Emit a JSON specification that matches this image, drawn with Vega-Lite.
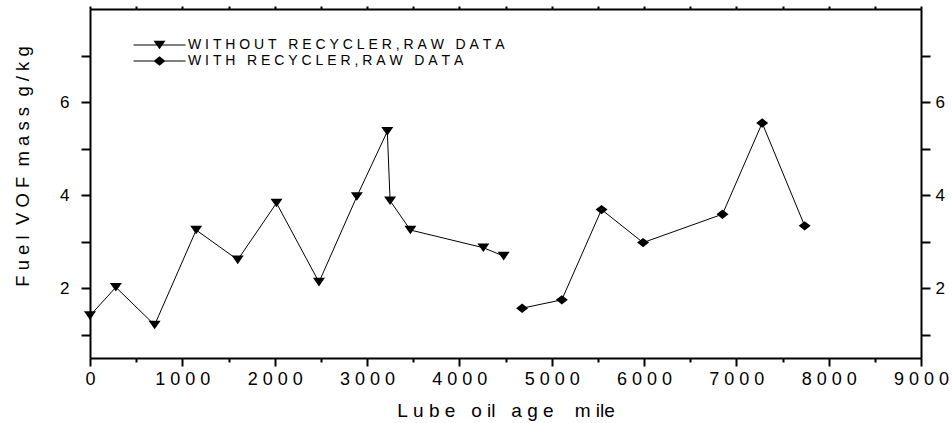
{
  "$schema": "https://vega.github.io/schema/vega-lite/v6.json",
  "width": 831,
  "height": 349,
  "autosize": {"type": "none"},
  "padding": {"left": 90, "top": 9, "right": 31, "bottom": 65},
  "background": "white",
  "config": {
    "view": {"stroke": null},
    "font": "Liberation Sans",
    "axis": {
      "domainColor": "black", "tickColor": "black", "labelColor": "black", "titleColor": "black",
      "domainWidth": 2, "tickWidth": 2, "grid": false,
      "labelFont": "Liberation Sans", "titleFont": "Liberation Sans", "titleFontWeight": "normal"
    }
  },
  "data": {"values": [
    {"series": "WITHOUT RECYCLER,RAW DATA", "mile": 0, "vof": 1.41},
    {"series": "WITHOUT RECYCLER,RAW DATA", "mile": 280, "vof": 2.02},
    {"series": "WITHOUT RECYCLER,RAW DATA", "mile": 700, "vof": 1.21},
    {"series": "WITHOUT RECYCLER,RAW DATA", "mile": 1150, "vof": 3.25},
    {"series": "WITHOUT RECYCLER,RAW DATA", "mile": 1600, "vof": 2.61},
    {"series": "WITHOUT RECYCLER,RAW DATA", "mile": 2020, "vof": 3.83},
    {"series": "WITHOUT RECYCLER,RAW DATA", "mile": 2480, "vof": 2.13},
    {"series": "WITHOUT RECYCLER,RAW DATA", "mile": 2890, "vof": 3.97},
    {"series": "WITHOUT RECYCLER,RAW DATA", "mile": 3220, "vof": 5.37},
    {"series": "WITHOUT RECYCLER,RAW DATA", "mile": 3250, "vof": 3.88},
    {"series": "WITHOUT RECYCLER,RAW DATA", "mile": 3470, "vof": 3.25},
    {"series": "WITHOUT RECYCLER,RAW DATA", "mile": 4260, "vof": 2.87},
    {"series": "WITHOUT RECYCLER,RAW DATA", "mile": 4480, "vof": 2.69},
    {"series": "WITH RECYCLER,RAW DATA", "mile": 4680, "vof": 1.57},
    {"series": "WITH RECYCLER,RAW DATA", "mile": 5110, "vof": 1.75},
    {"series": "WITH RECYCLER,RAW DATA", "mile": 5540, "vof": 3.69},
    {"series": "WITH RECYCLER,RAW DATA", "mile": 5990, "vof": 2.98},
    {"series": "WITH RECYCLER,RAW DATA", "mile": 6850, "vof": 3.59},
    {"series": "WITH RECYCLER,RAW DATA", "mile": 7280, "vof": 5.55},
    {"series": "WITH RECYCLER,RAW DATA", "mile": 7740, "vof": 3.34}
  ]},
  "resolve": {
    "axis": {"x": "independent", "y": "independent"},
    "scale": {"shape": "independent"},
    "legend": {"shape": "independent"}
  },
  "layer": [
    {
      "mark": {"type": "line", "color": "black", "strokeWidth": 1},
      "encoding": {
        "x": {
          "field": "mile", "type": "quantitative",
          "scale": {"domain": [0, 9000], "nice": false, "zero": false},
          "axis": {
            "orient": "bottom",
            "values": [0, 500, 1000, 1500, 2000, 2500, 3000, 3500, 4000, 4500, 5000, 5500, 6000, 6500, 7000, 7500, 8000, 8500, 9000],
            "format": "d",
            "labelExpr": "datum.value % 1000 === 0 ? join(split(datum.label, ''), ' ') : ''",
            "labelFontSize": 18, "labelPadding": 4, "labelFlush": false, "labelOverlap": false,
            "tickSize": {"condition": {"test": "datum.value % 1000 === 0", "value": 8}, "value": 4},
            "title": "L\u00a0u\u00a0b\u00a0e\u00a0\u00a0\u00a0o\u00a0il\u00a0\u00a0\u00a0a\u00a0g\u00a0e\u00a0\u00a0\u00a0\u00a0m\u00a0ile",
            "titleFontSize": 19, "titlePadding": 13
          }
        },
        "y": {
          "field": "vof", "type": "quantitative",
          "scale": {"domain": [0.5, 8], "nice": false, "zero": false},
          "axis": {
            "orient": "left",
            "values": [1, 2, 3, 4, 5, 6, 7],
            "labelExpr": "datum.value % 2 === 0 ? datum.label : ''",
            "labelFontSize": 17, "labelPadding": 12, "tickSize": 9,
            "title": "F\u00a0u\u00a0e\u00a0l\u00a0\u00a0V\u00a0O\u00a0F\u00a0\u00a0m\u00a0a\u00a0s\u00a0s\u00a0\u00a0g\u00a0/\u00a0k\u00a0g",
            "titleFontSize": 18.5, "titleX": -62, "titleY": 157,
            "titleAlign": "center", "titleBaseline": "alphabetic", "titleAngle": 270
          }
        },
        "detail": {"field": "series"}
      }
    },
    {
      "mark": {"type": "point", "filled": true, "color": "black", "opacity": 1, "size": 144, "strokeWidth": 0},
      "encoding": {
        "x": {
          "field": "mile", "type": "quantitative",
          "scale": {"domain": [0, 9000], "nice": false, "zero": false},
          "axis": {
            "orient": "top",
            "values": [0, 500, 1000, 1500, 2000, 2500, 3000, 3500, 4000, 4500, 5000, 5500, 6000, 6500, 7000, 7500, 8000, 8500, 9000],
            "labels": false, "tickSize": 3, "title": null
          }
        },
        "y": {
          "field": "vof", "type": "quantitative",
          "scale": {"domain": [0.5, 8], "nice": false, "zero": false},
          "axis": {
            "orient": "right",
            "values": [1, 2, 3, 4, 5, 6, 7],
            "labelExpr": "datum.value % 2 === 0 ? datum.label : ''",
            "labelFontSize": 17, "labelPadding": 5, "tickSize": 9, "title": null
          }
        },
        "shape": {
          "field": "series", "type": "nominal",
          "scale": {
            "domain": ["WITHOUT RECYCLER,RAW DATA", "WITH RECYCLER,RAW DATA"],
            "range": ["M-1,-0.72L1,-0.72L0,0.72Z", "M-1,0L0,-0.78L1,0L0,0.78Z"]
          },
          "legend": null
        }
      }
    },
    {
      "mark": {"type": "point", "filled": true, "color": "black", "opacity": 0, "size": 144, "strokeWidth": 0},
      "encoding": {
        "x": {"field": "mile", "type": "quantitative", "axis": null},
        "y": {"field": "vof", "type": "quantitative", "axis": null},
        "shape": {
          "field": "series", "type": "nominal",
          "scale": {
            "domain": ["WITHOUT RECYCLER,RAW DATA", "WITH RECYCLER,RAW DATA"],
            "range": [
              "M-4.33,-0.09L4.33,-0.09L4.33,0.09L-4.33,0.09Z M-1,-0.72L1,-0.72L0,0.72Z",
              "M-4.33,-0.09L4.33,-0.09L4.33,0.09L-4.33,0.09Z M-1,0L0,-0.78L1,0L0,0.78Z"
            ]
          },
          "legend": {
            "orient": "none", "legendX": 62.5, "legendY": 29, "title": null, "padding": 0,
            "symbolSize": 144, "symbolOpacity": 1, "symbolFillColor": "black", "symbolStrokeWidth": 0,
            "labelFontSize": 14, "labelFont": "Liberation Sans", "labelColor": "black",
            "labelOffset": 21.5, "rowPadding": 2, "labelLimit": 800,
            "labelExpr": "join(split(datum.label, ''), '\u00a0')"
          }
        }
      }
    }
  ]
}
